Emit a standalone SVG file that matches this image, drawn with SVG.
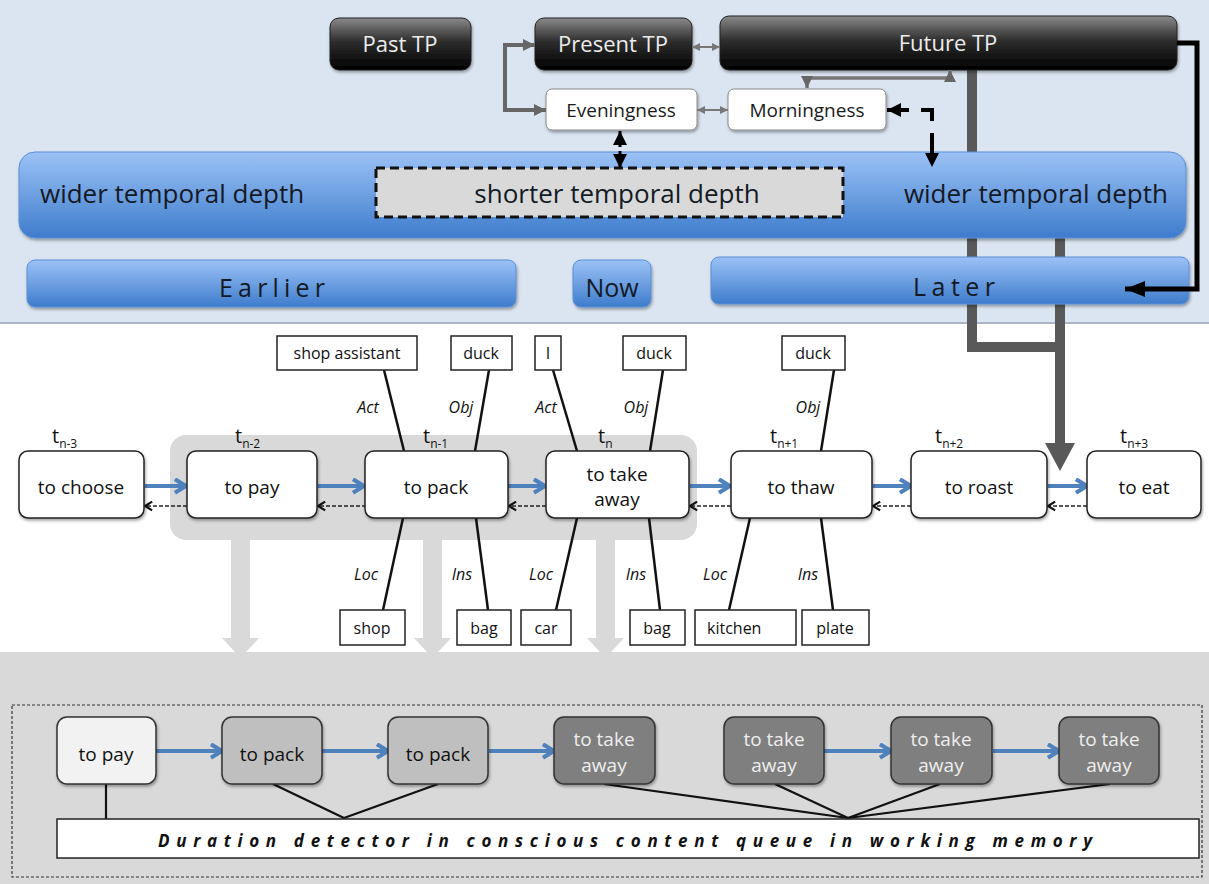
<svg xmlns="http://www.w3.org/2000/svg" width="1209" height="884" viewBox="0 0 1209 884">
<defs>
<style>
text{font-family:"Open Sans","Liberation Sans",sans-serif;fill:#111}
.tp{font-size:22px;fill:#ececec;text-anchor:middle}
.ev{font-size:19px;text-anchor:middle;fill:#1a1a1a}
.bar{font-size:26px;fill:#141a24}
.spaced{font-size:25px;fill:#141a24;text-anchor:middle}
.node{fill:#fff;stroke:#222;stroke-width:1.5}
.nt{font-size:19px;text-anchor:middle}
.role{fill:#fff;stroke:#222;stroke-width:1.5}
.rt{font-size:16px;text-anchor:middle}
.rts{font-size:16px;text-anchor:start}
.lbl{font-size:16px;font-style:italic;text-anchor:middle}
.rl{stroke:#111;stroke-width:2.5;fill:none}
.fw{stroke:#4f81bd;stroke-width:4;fill:none;marker-end:url(#chevBlue)}
.bk{stroke:#222;stroke-width:1.5;stroke-dasharray:4 2;fill:none;marker-end:url(#chevBack)}
.t{font-size:20px}
.sub{font-size:12px}
.qn{stroke:#333;stroke-width:1.5}
.qt{font-size:19px;text-anchor:middle}
.qtl{font-size:19px;text-anchor:middle;fill:#eee}
.ql{stroke:#111;stroke-width:2.2;fill:none}
</style>
<linearGradient id="blackGrad" x1="0" y1="0" x2="0" y2="1">
<stop offset="0" stop-color="#8a8a8a"/>
<stop offset="0.45" stop-color="#2e2e2e"/>
<stop offset="1" stop-color="#000"/>
</linearGradient>
<linearGradient id="blueGrad" x1="0" y1="0" x2="0" y2="1">
<stop offset="0" stop-color="#9cc2f6"/>
<stop offset="1" stop-color="#3e7ccc"/>
</linearGradient>
<filter id="sh" x="-10%" y="-20%" width="120%" height="150%">
<feDropShadow dx="1" dy="2" stdDeviation="1.5" flood-color="#000" flood-opacity="0.35"/>
</filter>
<marker id="chevBlue" viewBox="0 0 10 10" refX="8.5" refY="5" markerWidth="17" markerHeight="17" markerUnits="userSpaceOnUse" orient="auto">
<path d="M2,1 L8.5,5 L2,9" fill="none" stroke="#4f81bd" stroke-width="2.4"/>
</marker>
<marker id="chevBack" viewBox="0 0 10 10" refX="8.5" refY="5" markerWidth="11" markerHeight="11" markerUnits="userSpaceOnUse" orient="auto">
<path d="M2,1 L8.5,5 L2,9" fill="none" stroke="#111" stroke-width="2"/>
</marker>
<marker id="triGray" viewBox="0 0 10 10" refX="10" refY="5" markerWidth="12" markerHeight="12" markerUnits="userSpaceOnUse" orient="auto-start-reverse">
<path d="M0,0 L10,5 L0,10 z" fill="#666"/>
</marker>
<marker id="triGraySm" viewBox="0 0 10 10" refX="10" refY="5" markerWidth="8" markerHeight="8" markerUnits="userSpaceOnUse" orient="auto-start-reverse">
<path d="M0,0 L10,5 L0,10 z" fill="#777"/>
</marker>
<marker id="triBlack" viewBox="0 0 10 10" refX="10" refY="5" markerWidth="14" markerHeight="14" markerUnits="userSpaceOnUse" orient="auto-start-reverse">
<path d="M0,0 L10,5 L0,10 z" fill="#000"/>
</marker>
<marker id="triBlackLg" viewBox="0 0 10 10" refX="10" refY="5" markerWidth="20" markerHeight="20" markerUnits="userSpaceOnUse" orient="auto">
<path d="M0,1 L10,5 L0,9 z" fill="#000"/>
</marker>
</defs>

<!-- top panel -->
<rect x="0" y="0" width="1209" height="323" fill="#dbe5f1"/>
<line x1="0" y1="323" x2="1209" y2="323" stroke="#aab6c6" stroke-width="2"/>

<!-- bottom panel -->
<rect x="0" y="652" width="1209" height="232" fill="#d9d9d9"/>

<!-- back connectors (behind bars) -->
<g id="connectors-back">
<path d="M972,70 V347 H1060" stroke="#595959" stroke-width="10" fill="none"/>
<path d="M1060,238 V445" stroke="#595959" stroke-width="10" fill="none"/>
<polygon points="1045,443 1075,443 1060,471" fill="#595959"/>
</g>

<g id="wide-bar">
<rect x="19" y="152" width="1167" height="86" rx="16" fill="url(#blueGrad)" stroke="#5a8fd6" filter="url(#sh)"/>
<text class="bar" x="40" y="203">wider temporal depth</text>
<text class="bar" x="1168" y="203" text-anchor="end">wider temporal depth</text>
</g>
<g id="shorter">
<rect x="376" y="168" width="467" height="49" fill="#d9d9d9" stroke="#111" stroke-width="3" stroke-dasharray="9 5"/>
<text class="bar" x="617" y="203" text-anchor="middle">shorter temporal depth</text>
</g>
<g id="earlier">
<rect x="27" y="260" width="489" height="47" rx="8" fill="url(#blueGrad)" stroke="#5a8fd6" filter="url(#sh)"/>
<text class="spaced" x="272" y="297" textLength="106" lengthAdjust="spacing">Earlier</text>
</g>
<g id="now">
<rect x="573" y="260" width="78" height="47" rx="8" fill="url(#blueGrad)" stroke="#5a8fd6" filter="url(#sh)"/>
<text class="spaced" x="612" y="297">Now</text>
</g>
<g id="later">
<rect x="711" y="257" width="478" height="47" rx="8" fill="url(#blueGrad)" stroke="#5a8fd6" filter="url(#sh)"/>
<text class="spaced" x="954" y="296" textLength="82" lengthAdjust="spacing">Later</text>
</g>

<g id="past-tp">
<rect x="330" y="18" width="141" height="52" rx="9" fill="url(#blackGrad)" stroke="#222" filter="url(#sh)"/>
<text class="tp" x="400" y="52">Past TP</text>
</g>
<g id="present-tp">
<rect x="535" y="18" width="157" height="52" rx="9" fill="url(#blackGrad)" stroke="#222" filter="url(#sh)"/>
<text class="tp" x="613" y="52">Present TP</text>
</g>
<g id="future-tp">
<rect x="720" y="16" width="457" height="54" rx="9" fill="url(#blackGrad)" stroke="#222" filter="url(#sh)"/>
<text class="tp" x="948" y="51">Future TP</text>
</g>
<g id="eveningness">
<rect x="546" y="89" width="151" height="41" rx="6" fill="#fff" stroke="#8a8a8a" filter="url(#sh)"/>
<text class="ev" x="621" y="117">Eveningness</text>
</g>
<g id="morningness">
<rect x="728" y="89" width="158" height="41" rx="6" fill="#fff" stroke="#8a8a8a" filter="url(#sh)"/>
<text class="ev" x="807" y="117">Morningness</text>
</g>

<!-- middle highlight and down arrows -->
<g id="highlight">
<rect x="170" y="435" width="527" height="105" rx="16" fill="#d9d9d9"/>
<rect x="231" y="530" width="19" height="110" fill="#d9d9d9"/>
<polygon points="222,638 259,638 240.5,658" fill="#d9d9d9"/>
<rect x="423" y="530" width="19" height="110" fill="#d9d9d9"/>
<polygon points="414,638 451,638 432.5,658" fill="#d9d9d9"/>
<rect x="596" y="530" width="19" height="110" fill="#d9d9d9"/>
<polygon points="587,638 624,638 605.5,658" fill="#d9d9d9"/>
</g>

<g id="connectors">
<!-- top -->
<path d="M535,45 H505 V110 H546" stroke="#666" stroke-width="4" fill="none" marker-start="url(#triGray)" marker-end="url(#triGray)"/>
<path d="M692,47 H720" stroke="#777" stroke-width="2" fill="none" marker-start="url(#triGraySm)" marker-end="url(#triGraySm)"/>
<path d="M697,110 H728" stroke="#777" stroke-width="2" fill="none" marker-start="url(#triGraySm)" marker-end="url(#triGraySm)"/>
<path d="M807,88 V78 H950 V70" stroke="#777" stroke-width="3.5" fill="none" marker-start="url(#triGray)" marker-end="url(#triGray)"/>
<path d="M887,110 H932 V167" stroke="#000" stroke-width="4" fill="none" stroke-dasharray="22 12" marker-start="url(#triBlack)" marker-end="url(#triBlack)"/>
<path d="M620,131 V168" stroke="#000" stroke-width="3" fill="none" stroke-dasharray="6 4" marker-start="url(#triBlack)" marker-end="url(#triBlack)"/>
<path d="M1177,43 H1197 V289 H1125" stroke="#000" stroke-width="5" fill="none" marker-end="url(#triBlackLg)"/>
<!-- forward -->
<path class="fw" d="M145,486 H186"/>
<path class="fw" d="M318,486 H364"/>
<path class="fw" d="M508,486 H545"/>
<path class="fw" d="M690,486 H730"/>
<path class="fw" d="M873,486 H911"/>
<path class="fw" d="M1048,486 H1087"/>
<!-- backward -->
<path class="bk" d="M187,506 H145"/>
<path class="bk" d="M366,506 H318"/>
<path class="bk" d="M546,506 H509"/>
<path class="bk" d="M731,506 H690"/>
<path class="bk" d="M911,506 H873"/>
<path class="bk" d="M1087,506 H1048"/>
<!-- roles -->
<line class="rl" x1="384" y1="370" x2="404" y2="451"/>
<line class="rl" x1="489" y1="370" x2="475" y2="451"/>
<line class="rl" x1="553" y1="370" x2="577" y2="451"/>
<line class="rl" x1="663" y1="370" x2="650" y2="451"/>
<line class="rl" x1="834" y1="370" x2="821" y2="451"/>
<line class="rl" x1="403" y1="518" x2="383" y2="610"/>
<line class="rl" x1="476" y1="518" x2="488" y2="610"/>
<line class="rl" x1="577" y1="518" x2="556" y2="610"/>
<line class="rl" x1="649" y1="518" x2="660" y2="610"/>
<line class="rl" x1="750" y1="518" x2="729" y2="610"/>
<line class="rl" x1="821" y1="518" x2="833" y2="610"/>
<!-- bottom queue -->
<path class="fw" d="M156,751 H222"/>
<path class="fw" d="M322,751 H388"/>
<path class="fw" d="M489,751 H554"/>
<path class="fw" d="M824,751 H891"/>
<path class="fw" d="M993,751 H1059"/>
<line class="ql" x1="106" y1="784" x2="106" y2="820"/>
<line class="ql" x1="273" y1="784" x2="344" y2="818"/>
<line class="ql" x1="438" y1="784" x2="344" y2="818"/>
<line class="ql" x1="604" y1="784" x2="848" y2="818"/>
<line class="ql" x1="775" y1="784" x2="848" y2="818"/>
<line class="ql" x1="940" y1="784" x2="848" y2="818"/>
<line class="ql" x1="1110" y1="784" x2="848" y2="818"/>
</g>

<g id="role-labels">
<text class="lbl" x="368" y="413">Act</text>
<text class="lbl" x="461" y="413">Obj</text>
<text class="lbl" x="546" y="413">Act</text>
<text class="lbl" x="636" y="413">Obj</text>
<text class="lbl" x="808" y="413">Obj</text>
<text class="lbl" x="366" y="580">Loc</text>
<text class="lbl" x="462" y="580">Ins</text>
<text class="lbl" x="541" y="580">Loc</text>
<text class="lbl" x="636" y="580">Ins</text>
<text class="lbl" x="715" y="580">Loc</text>
<text class="lbl" x="808" y="580">Ins</text>
</g>

<g id="time-labels">
<text class="t" x="52" y="443">t<tspan class="sub" dy="5">n-3</tspan></text>
<text class="t" x="235" y="443">t<tspan class="sub" dy="5">n-2</tspan></text>
<text class="t" x="423" y="443">t<tspan class="sub" dy="5">n-1</tspan></text>
<text class="t" x="598" y="443">t<tspan class="sub" dy="5">n</tspan></text>
<text class="t" x="770" y="443">t<tspan class="sub" dy="5">n+1</tspan></text>
<text class="t" x="935" y="443">t<tspan class="sub" dy="5">n+2</tspan></text>
<text class="t" x="1120" y="443">t<tspan class="sub" dy="5">n+3</tspan></text>
</g>

<g id="to-choose"><rect class="node" x="19" y="451" width="125" height="67" rx="9" filter="url(#sh)"/><text class="nt" x="81" y="494">to choose</text></g>
<g id="to-pay"><rect class="node" x="187" y="451" width="130" height="67" rx="9" filter="url(#sh)"/><text class="nt" x="252" y="494">to pay</text></g>
<g id="to-pack"><rect class="node" x="365" y="451" width="143" height="67" rx="9" filter="url(#sh)"/><text class="nt" x="436" y="494">to pack</text></g>
<g id="to-take-away"><rect class="node" x="546" y="451" width="143" height="67" rx="9" filter="url(#sh)"/><text class="nt" x="617" y="481">to take</text><text class="nt" x="617" y="506">away</text></g>
<g id="to-thaw"><rect class="node" x="731" y="451" width="141" height="67" rx="9" filter="url(#sh)"/><text class="nt" x="801" y="494">to thaw</text></g>
<g id="to-roast"><rect class="node" x="911" y="451" width="136" height="67" rx="9" filter="url(#sh)"/><text class="nt" x="979" y="494">to roast</text></g>
<g id="to-eat"><rect class="node" x="1087" y="451" width="114" height="67" rx="9" filter="url(#sh)"/><text class="nt" x="1144" y="494">to eat</text></g>

<g id="r-shop-assistant"><rect class="role" x="277" y="336" width="140" height="34"/><text class="rt" x="347" y="359">shop assistant</text></g>
<g id="r-duck1"><rect class="role" x="451" y="336" width="61" height="34"/><text class="rt" x="481" y="359">duck</text></g>
<g id="r-i"><rect class="role" x="535" y="336" width="26" height="34"/><text class="rt" x="548" y="359">I</text></g>
<g id="r-duck2"><rect class="role" x="623" y="336" width="63" height="34"/><text class="rt" x="654" y="359">duck</text></g>
<g id="r-duck3"><rect class="role" x="782" y="336" width="63" height="34"/><text class="rt" x="813" y="359">duck</text></g>
<g id="r-shop"><rect class="role" x="340" y="610" width="65" height="35"/><text class="rt" x="372" y="634">shop</text></g>
<g id="r-bag1"><rect class="role" x="457" y="610" width="54" height="35"/><text class="rt" x="484" y="634">bag</text></g>
<g id="r-car"><rect class="role" x="521" y="610" width="50" height="35"/><text class="rt" x="546" y="634">car</text></g>
<g id="r-bag2"><rect class="role" x="630" y="610" width="55" height="35"/><text class="rt" x="657" y="634">bag</text></g>
<g id="r-kitchen"><rect class="role" x="695" y="610" width="101" height="35"/><text class="rts" x="707" y="634">kitchen</text></g>
<g id="r-plate"><rect class="role" x="802" y="610" width="67" height="35"/><text class="rt" x="835" y="634">plate</text></g>

<!-- bottom queue -->
<rect x="12" y="705" width="1190" height="172" fill="none" stroke="#333" stroke-width="1.2" stroke-dasharray="3 2"/>
<g id="q-to-pay"><rect class="qn" x="57" y="717" width="99" height="67" rx="10" fill="#f2f2f2" filter="url(#sh)"/><text class="qt" x="106" y="761">to pay</text></g>
<g id="q-to-pack1"><rect class="qn" x="222" y="717" width="100" height="67" rx="10" fill="#bfbfbf" filter="url(#sh)"/><text class="qt" x="272" y="761">to pack</text></g>
<g id="q-to-pack2"><rect class="qn" x="388" y="717" width="100" height="67" rx="10" fill="#bfbfbf" filter="url(#sh)"/><text class="qt" x="438" y="761">to pack</text></g>
<g id="q-take1"><rect class="qn" x="554" y="717" width="101" height="67" rx="10" fill="#7f7f7f" filter="url(#sh)"/><text class="qtl" x="604" y="746">to take</text><text class="qtl" x="604" y="772">away</text></g>
<g id="q-take2"><rect class="qn" x="724" y="717" width="100" height="67" rx="10" fill="#7f7f7f" filter="url(#sh)"/><text class="qtl" x="774" y="746">to take</text><text class="qtl" x="774" y="772">away</text></g>
<g id="q-take3"><rect class="qn" x="891" y="717" width="101" height="67" rx="10" fill="#7f7f7f" filter="url(#sh)"/><text class="qtl" x="941" y="746">to take</text><text class="qtl" x="941" y="772">away</text></g>
<g id="q-take4"><rect class="qn" x="1059" y="717" width="100" height="67" rx="10" fill="#7f7f7f" filter="url(#sh)"/><text class="qtl" x="1109" y="746">to take</text><text class="qtl" x="1109" y="772">away</text></g>
<g id="duration-detector">
<rect x="57" y="819" width="1142" height="39" fill="#fff" stroke="#222" stroke-width="1.5"/>
<text x="625" y="847" text-anchor="middle" font-size="17" font-weight="bold" font-style="italic" textLength="934" lengthAdjust="spacing">Duration detector in conscious content queue in working memory</text>
</g>
</svg>
